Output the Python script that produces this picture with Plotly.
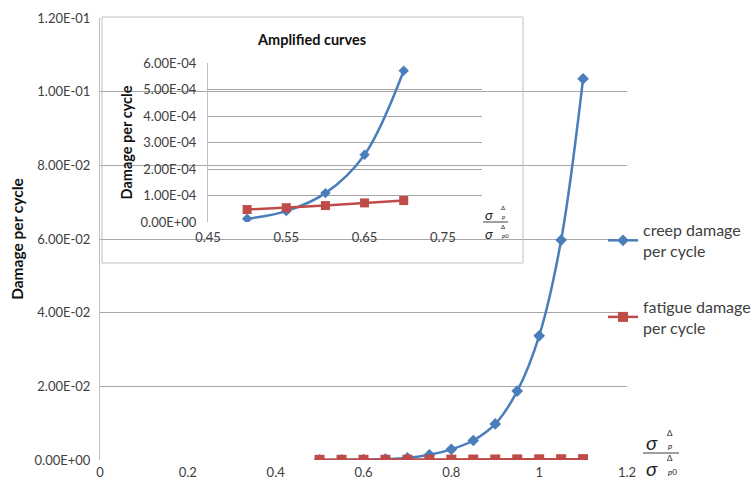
import plotly.graph_objects as go

# ---- data ----
ratio = [0.5, 0.55, 0.6, 0.65, 0.7, 0.75, 0.8, 0.85, 0.9, 0.95, 1.0, 1.05, 1.1]
creep = [1.2e-5, 4.1e-5, 1.09e-4, 2.54e-4, 5.71e-4, 1.4e-3, 2.9e-3, 5.3e-3,
         9.8e-3, 1.87e-2, 3.37e-2, 5.97e-2, 1.035e-1]
fatigue = [4.7e-5, 5.4e-5, 6.2e-5, 7.2e-5, 8.1e-5, 9.4e-5, 1.08e-4, 1.24e-4,
           1.42e-4, 1.62e-4, 1.84e-4, 2.08e-4, 2.35e-4]
n_inset = 5

main_yticks = [0, 0.02, 0.04, 0.06, 0.08, 0.10, 0.12]
main_ylabels = ["0.00E+00", "2.00E-02", "4.00E-02", "6.00E-02", "8.00E-02", "1.00E-01", "1.20E-01"]
main_xticks = [0, 0.2, 0.4, 0.6, 0.8, 1, 1.2]
main_xlabels = ["0", "0.2", "0.4", "0.6", "0.8", "1", "1.2"]
inset_yticks = [0, 1e-4, 2e-4, 3e-4, 4e-4, 5e-4, 6e-4]
inset_ylabels = ["0.00E+00", "1.00E-04", "2.00E-04", "3.00E-04", "4.00E-04", "5.00E-04", "6.00E-04"]
inset_xticks = [0.45, 0.55, 0.65, 0.75]
inset_xlabels = ["0.45", "0.55", "0.65", "0.75"]

BLUE = "#4A7EBB"
RED = "#BE4B48"
GRID = "#A6A6A6"
TXT = "#404040"
FONT = "Lato"

W, H = 756, 482
L, R, T, B = 100, 129, 18, 22
PW, PH = W - L - R, H - T - B


def px(x):
    return (x - L) / PW


def py(y):
    return (H - B - y) / PH


fig = go.Figure()

# main traces
fig.add_trace(go.Scatter(x=ratio, y=creep, mode="lines+markers", name="creep damage<br>per cycle",
                         line=dict(color=BLUE, width=2.5, shape="spline"),
                         marker=dict(symbol="diamond", size=9, color=BLUE),
                         legendgroup="a", xaxis="x", yaxis="y"))
fig.add_trace(go.Scatter(x=ratio, y=fatigue, mode="lines+markers", name="fatigue damage<br>per cycle",
                         line=dict(color=RED, width=2.5),
                         marker=dict(symbol="square", size=10, color=RED),
                         legendgroup="b", xaxis="x", yaxis="y"))
# inset traces
fig.add_trace(go.Scatter(x=ratio[:n_inset], y=creep[:n_inset], mode="lines+markers",
                         line=dict(color=BLUE, width=2.5, shape="spline"),
                         marker=dict(symbol="diamond", size=8, color=BLUE),
                         showlegend=False, xaxis="x2", yaxis="y2"))
fig.add_trace(go.Scatter(x=ratio[:n_inset], y=fatigue[:n_inset], mode="lines+markers",
                         line=dict(color=RED, width=2.5),
                         marker=dict(symbol="square", size=9, color=RED),
                         showlegend=False, xaxis="x2", yaxis="y2"))

TICKF = dict(size=13, color=TXT)

fig.update_layout(
    width=W, height=H,
    margin=dict(l=L, r=R, t=T, b=B, autoexpand=False),
    paper_bgcolor="white", plot_bgcolor="rgba(0,0,0,0)",
    font=dict(family=FONT, size=13, color=TXT),
    xaxis=dict(domain=[0, 1], range=[0, 1.2], tickvals=main_xticks, ticktext=main_xlabels,
               showgrid=False, zeroline=False, showline=False, ticks="", tickfont=TICKF,
               automargin=False, ticklabelstandoff=3),
    yaxis=dict(domain=[0, 1], range=[0, 0.12], tickvals=main_yticks, ticktext=main_ylabels,
               showgrid=True, gridcolor=GRID, gridwidth=1, zeroline=False,
               showline=True, linecolor="#BFBFBF", ticks="", tickfont=TICKF, automargin=False,
               ticklabelstandoff=6,
               title=dict(text="<b>Damage per cycle</b>", font=dict(size=15.5, color="#111"), standoff=7)),
    xaxis2=dict(domain=[px(208), px(482)], range=[0.45, 0.8], anchor="y2",
                tickvals=inset_xticks, ticktext=inset_xlabels, automargin=False,
                showgrid=False, zeroline=False, showline=False, ticks="", tickfont=TICKF,
                ticklabelstandoff=6),
    yaxis2=dict(domain=[py(222), py(63)], range=[0, 6e-4], anchor="x2",
                tickvals=inset_yticks, ticktext=inset_ylabels, automargin=False,
                showgrid=True, gridcolor=GRID, gridwidth=1, zeroline=False,
                showline=True, linecolor="#BFBFBF", ticks="", tickfont=TICKF,
                ticklabelstandoff=8,
                title=dict(text="<b>Damage per cycle</b>", font=dict(size=14.5, color="#111"), standoff=4)),
    legend=dict(xref="container", yref="container", x=603 / W, y=1 - 213 / H,
                xanchor="left", yanchor="top",
                font=dict(size=16, color=TXT), tracegroupgap=32, itemwidth=30,
                bgcolor="rgba(0,0,0,0)"),
    showlegend=True,
)

# white inset background (between main gridlines and traces)
fig.add_shape(type="rect", xref="paper", yref="paper", x0=px(102), x1=px(523), y0=py(263), y1=py(17),
              fillcolor="white", line=dict(width=0), layer="between")
fig.add_shape(type="rect", xref="paper", yref="paper", x0=px(102), x1=px(523), y0=py(263), y1=py(17),
              fillcolor="rgba(0,0,0,0)", line=dict(color="#BFBFBF", width=1), layer="above")

annots = []
annots.append(dict(text="<b>Amplified curves</b>", x=px(311), y=py(39), font=dict(size=14.5, color="#111")))


def fraction(cx, num_y, line_y, den_y, x0, x1, big, small, sx):
    out = []
    c = "#222"
    out.append(dict(text="<i>σ</i>", x=px(cx), y=py(num_y), font=dict(size=big, color=c)))
    out.append(dict(text="Δ", x=px(sx), y=py(num_y - big * 0.45), font=dict(size=small, color=c)))
    out.append(dict(text="<i>p</i>", x=px(sx), y=py(num_y + big * 0.2), font=dict(size=small, color=c)))
    out.append(dict(text="<i>σ</i>", x=px(cx), y=py(den_y), font=dict(size=big, color=c)))
    out.append(dict(text="Δ", x=px(sx), y=py(den_y - big * 0.5), font=dict(size=small, color=c)))
    out.append(dict(text="<i>p</i>0", x=px(sx + 2), y=py(den_y + big * 0.2), font=dict(size=small, color=c)))
    fig.add_shape(type="line", xref="paper", yref="paper", x0=px(x0), x1=px(x1), y0=py(line_y), y1=py(line_y),
                  line=dict(color="#7F7F7F", width=1.5), layer="above")
    return out


annots += fraction(652, 442, 453, 468, 643, 679, 20, 8, 670)
annots += fraction(489, 214, 222, 233, 483, 508, 14, 6, 503)

for a in annots:
    a.update(xref="paper", yref="paper", showarrow=False, xanchor="center", yanchor="middle")
    fig.add_annotation(**a)

fig.write_html("out.html", config={"displayModeBar": False},
               post_script="document.body.style.margin='0';document.body.style.overflow='hidden';")
